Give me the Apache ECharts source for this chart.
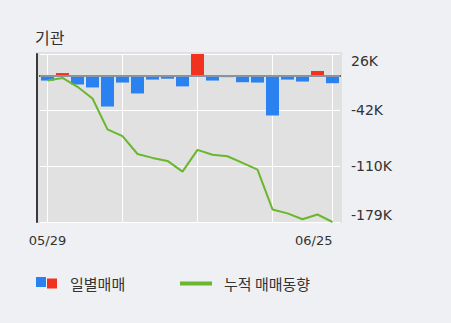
<!DOCTYPE html>
<html>
<head>
<meta charset="utf-8">
<script src="https://cdn.jsdelivr.net/npm/echarts@6/dist/echarts.min.js"></script>
<style>
html,body{margin:0;padding:0;background:#eef0f4;}
#chart{width:451px;height:323px;}
</style>
</head>
<body>
<div id="chart"></div>
<script>
// ---- data ----
const dates = ['05/29','06/01','06/02','06/03','06/04','06/05','06/08','06/09','06/10','06/11',
               '06/12','06/15','06/16','06/17','06/18','06/19','06/22','06/23','06/24','06/25'];
const dailyTrade = [-6000, 3200, -10800, -14400, -37800, -8400, -21800, -4800, -3700, -13100,
                    26600, -6000, -1800, -8000, -8400, -48800, -4800, -7200, 5800, -9200];
const cumulativeTrade = [-6000, -2800, -13600, -28000, -65800, -74200, -96000, -100800, -104500, -117600,
                         -91000, -97000, -98800, -106800, -115200, -164000, -168800, -176000, -170200, -179400];
const yMax = 26600;
const yMin = -179400;
const yTicks = 3;
const titleText = '기관';
const barName = '일별매매';
const barNegName = '일별매매(매도)';
const lineName = '누적 매매동향';

const negValues = dailyTrade.map(v => v < 0 ? v : '-');
const posValues = dailyTrade.map(v => v > 0 ? v : '-');
const lastIdx = dates.length - 1;

const NUMFONT = "'DejaVu Sans', sans-serif";
const KRFONT = "'Noto Sans CJK KR', sans-serif";
const legendText = {fontSize: 15, color: '#333', fontFamily: KRFONT};
const chart = echarts.init(document.getElementById('chart'), null, {renderer: 'svg'});
chart.setOption({
  backgroundColor: '#eef0f4',
  animation: false,
  textStyle: {fontFamily: NUMFONT},
  title: {
    text: titleText, left: 30, top: 24,
    textStyle: {fontSize: 16, fontWeight: 'normal', color: '#333', fontFamily: KRFONT}
  },
  graphic: [{
    type: 'rect', z: -100, silent: true,
    shape: {x: 36, y: 52, width: 306, height: 171},
    style: {fill: '#e1e1e1'}
  }],
  legend: [
    {
      data: [barNegName], left: 36, top: 274.5, padding: 0, itemWidth: 10, itemHeight: 10, icon: 'rect',
      formatter: () => ' ', selectedMode: false, textStyle: legendText
    },
    {
      data: [barName], left: 47, top: 276, padding: 0, itemWidth: 10, itemHeight: 10, icon: 'rect',
      selectedMode: false,
      textStyle: Object.assign({padding: [0, 0, 0, 8]}, legendText)
    },
    {
      data: [{name: lineName, icon: 'rect'}], left: 180, top: 276, padding: 0, itemWidth: 32, itemHeight: 4,
      selectedMode: false,
      textStyle: Object.assign({padding: [0, 0, 0, 7]}, legendText)
    }
  ],
  grid: {left: 40, top: 54, width: 300, height: 168, containLabel: false},
  xAxis: {
    type: 'category', data: dates, boundaryGap: true,
    axisLine: {lineStyle: {color: '#3a3a3a', width: 2}},
    axisTick: {show: false},
    axisLabel: {
      interval: (i) => i === 0 || i === lastIdx,
      color: '#333', fontSize: 13, margin: 12, alignMaxLabel: 'right', fontFamily: NUMFONT
    },
    splitLine: {
      show: true, alignWithLabel: true,
      interval: (i) => i % 5 === 0 || i === lastIdx,
      lineStyle: {color: '#ffffff', width: 1}
    }
  },
  yAxis: [
    {
      type: 'value', position: 'right', min: yMin, max: yMax, interval: (yMax - yMin) / yTicks,
      axisLine: {show: false}, axisTick: {show: false},
      axisLabel: {
        color: '#333', fontSize: 14, margin: 11, fontFamily: NUMFONT,
        formatter: v => Math.trunc(Math.round(v) / 1000) + 'K',
        verticalAlignMinLabel: 'bottom', verticalAlignMaxLabel: 'top'
      },
      splitLine: {lineStyle: {color: '#ffffff', width: 1}}
    },
    {
      type: 'value', position: 'left', offset: 3, min: yMin, max: yMax,
      axisLine: {show: true, lineStyle: {color: '#3a3a3a', width: 2}},
      axisTick: {show: false}, axisLabel: {show: false}, splitLine: {show: false}
    }
  ],
  series: [
    {
      name: barNegName, type: 'bar', data: negValues, barWidth: 13, barGap: '-100%',
      itemStyle: {color: '#2a82f0'},
      markLine: {
        silent: true, symbol: 'none', label: {show: false},
        lineStyle: {color: '#8794a6', width: 2, type: 'solid'},
        data: [{yAxis: 0}]
      }
    },
    {
      name: barName, type: 'bar', data: posValues, barWidth: 13, barGap: '-100%',
      itemStyle: {color: '#f0321e'}
    },
    {
      name: lineName, type: 'line', data: cumulativeTrade, symbol: 'none', z: 5,
      lineStyle: {color: '#6ab72d', width: 2}, itemStyle: {color: '#6ab72d'}
    }
  ]
});
</script>
</body>
</html>
